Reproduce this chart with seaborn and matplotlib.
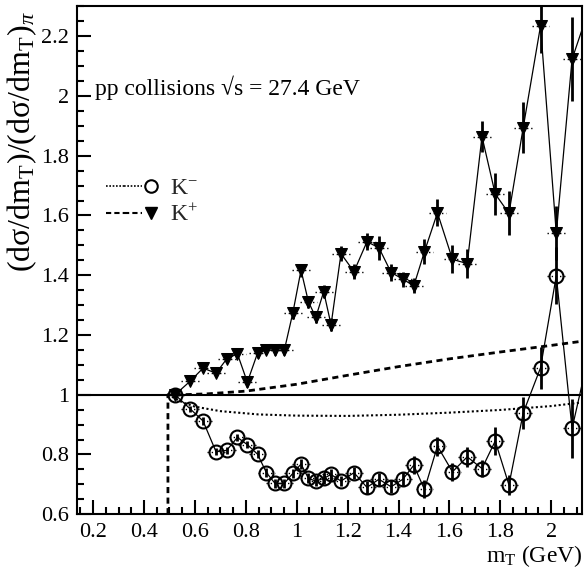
import numpy as np
import pandas as pd
import seaborn as sns
import matplotlib.pyplot as plt
from matplotlib.lines import Line2D
from matplotlib.legend_handler import HandlerTuple
from matplotlib.ticker import MultipleLocator, FormatStrFormatter

# m_T bin centres (GeV), shared by both kaon series
mt = [0.522, 0.581, 0.632, 0.683, 0.725, 0.767, 0.806, 0.846, 0.881, 0.915,
      0.951, 0.985, 1.017, 1.046, 1.075, 1.106, 1.135, 1.174, 1.225, 1.276,
      1.323, 1.371, 1.417, 1.460, 1.502, 1.553, 1.612, 1.670, 1.728, 1.780,
      1.834, 1.890, 1.958, 2.020, 2.082, 2.160]

# K+ / pi ratio and errors
ratio_kp = [1.0, 1.045, 1.089, 1.072, 1.12, 1.137, 1.042, 1.139, 1.15, 1.148,
            1.148, 1.275, 1.417, 1.311, 1.259, 1.345, 1.234, 1.472, 1.412, 1.512,
            1.492, 1.409, 1.387, 1.364, 1.479, 1.609, 1.453, 1.439, 1.864, 1.672,
            1.607, 1.894, 2.234, 1.54, 2.123, 2.32]
err_kp = [0.005, 0.012, 0.012, 0.012, 0.013, 0.014, 0.015, 0.015, 0.015, 0.015,
          0.015, 0.02, 0.022, 0.02, 0.02, 0.022, 0.022, 0.025, 0.025, 0.028,
          0.04, 0.03, 0.025, 0.025, 0.043, 0.045, 0.047, 0.05, 0.053, 0.07,
          0.074, 0.086, 0.09, 0.09, 0.14, 0.15]

# K- / pi ratio and errors
ratio_km = [1.0, 0.953, 0.912, 0.809, 0.814, 0.857, 0.833, 0.801, 0.739, 0.703,
            0.703, 0.737, 0.768, 0.72, 0.711, 0.72, 0.733, 0.711, 0.739, 0.69,
            0.717, 0.692, 0.717, 0.764, 0.683, 0.828, 0.742, 0.792, 0.753, 0.845,
            0.698, 0.939, 1.09, 1.398, 0.887, 1.18]
err_km = [0.005, 0.01, 0.012, 0.012, 0.012, 0.013, 0.013, 0.014, 0.015, 0.015,
          0.015, 0.016, 0.018, 0.017, 0.017, 0.018, 0.018, 0.018, 0.02, 0.022,
          0.022, 0.022, 0.024, 0.03, 0.03, 0.032, 0.03, 0.033, 0.03, 0.047,
          0.033, 0.053, 0.07, 0.095, 0.098, 0.11]

# model curves (dashed: K+, dotted: K-)
curve_kp_x = [0.494, 0.494, 0.55, 0.65, 0.8, 1.0, 1.2, 1.4, 1.6, 1.8, 2.0, 2.13]
curve_kp_y = [0.6, 1.0, 1.0, 1.003, 1.012, 1.035, 1.065, 1.094, 1.12, 1.143, 1.165, 1.18]
curve_km_x = [0.494, 0.55, 0.6, 0.7, 0.85, 1.0, 1.2, 1.4, 1.6, 1.8, 2.0, 2.13]
curve_km_y = [1.0, 0.975, 0.96, 0.945, 0.934, 0.930, 0.929, 0.933, 0.940, 0.949, 0.962, 0.975]

sns.set_theme(style='white')
plt.rcParams['font.family'] = ['Liberation Serif', 'DejaVu Serif']
plt.rcParams['mathtext.fontset'] = 'custom'
plt.rcParams['mathtext.rm'] = 'Liberation Serif'
plt.rcParams['mathtext.it'] = 'Liberation Serif:italic'

fig = plt.figure(figsize=(5.84, 5.72), dpi=100)
ax = fig.add_axes([0.132, 0.101, 0.865, 0.888])

ax.axhline(1.0, color='black', lw=1.5, zorder=2)

sns.lineplot(x=curve_kp_x, y=curve_kp_y, ax=ax, color='black', lw=2,
             linestyle=(0, (2.2, 1.6)), estimator=None, sort=False)
sns.lineplot(x=curve_km_x, y=curve_km_y, ax=ax, color='black', lw=1.5,
             linestyle=(0, (1, 1.2)), estimator=None, sort=False)

# horizontal bin marks (dotted) and vertical error bars
for y, e in [(ratio_kp, err_kp), (ratio_km, err_km)]:
    eb = ax.errorbar(mt, y, xerr=0.035, fmt='none', ecolor='black', elinewidth=1)
    eb.lines[2][0].set_linestyle((0, (1, 2)))
    ax.errorbar(mt, y, yerr=e, fmt='none', ecolor='black', elinewidth=2)

df_kp = pd.DataFrame({'mt': mt, 'ratio': ratio_kp})
df_km = pd.DataFrame({'mt': mt, 'ratio': ratio_km})
sns.lineplot(data=df_kp, x='mt', y='ratio', ax=ax, color='black', lw=0.9,
             marker='v', markersize=9, markerfacecolor='black',
             markeredgecolor='black', estimator=None, sort=False)
sns.lineplot(data=df_km, x='mt', y='ratio', ax=ax, color='black', lw=0.9,
             marker='o', markersize=10, markerfacecolor='none',
             markeredgecolor='black', markeredgewidth=1.5,
             estimator=None, sort=False)

ax.set_xlim(0.137, 2.122)
ax.set_ylim(0.6, 2.3)
ax.xaxis.set_major_locator(MultipleLocator(0.2))
ax.xaxis.set_minor_locator(MultipleLocator(0.05))
ax.yaxis.set_major_locator(MultipleLocator(0.2))
ax.yaxis.set_minor_locator(MultipleLocator(0.05))
ax.xaxis.set_major_formatter(FormatStrFormatter('%g'))
ax.yaxis.set_major_formatter(FormatStrFormatter('%g'))
ax.tick_params(which='both', direction='in', top=False, right=False,
               bottom=True, left=True, width=1.5, labelsize=16, pad=6,
               color='black', labelcolor='black')
ax.tick_params(which='major', length=10)
ax.tick_params(which='minor', length=5)
for s in ax.spines.values():
    s.set_linewidth(1.5)
    s.set_color('black')

ax.set_xlabel(r'm$_{\rm T}$ (GeV)', fontsize=17, loc='right', labelpad=1,
              color='black')
ax.set_ylabel(r'(dσ/dm$_{\rm T}$)/(dσ/dm$_{\rm T}$)$_{\pi}$', fontsize=23,
              loc='top', color='black')
ax.yaxis.set_label_coords(-0.076, 0.99)

ax.text(0.036, 0.825, 'pp collisions √s = 27.4 GeV', transform=ax.transAxes,
        fontsize=17, va='baseline', ha='left', color='black')

dot = Line2D([], [], color='black', lw=1.2, linestyle=(0, (1, 1)))
dash = Line2D([], [], color='black', lw=1.5, linestyle=(0, (2.5, 1.5)))
handles = [
    (dot, dot, Line2D([], [], marker='o', ls='none', mfc='none', mec='black',
                      mew=1.5, ms=9)),
    (dash, dash, Line2D([], [], marker='v', ls='none', mfc='black',
                        mec='black', ms=9)),
]
ax.legend(handles, ['K$^{-}$', 'K$^{+}$'],
          handler_map={tuple: HandlerTuple(ndivide=3, pad=0)},
          loc='center left', bbox_to_anchor=(0.057, 0.615), frameon=False,
          fontsize=17, handlelength=2.3, handletextpad=0.4, labelspacing=0.25,
          borderpad=0, borderaxespad=0)

fig.savefig('out.png', dpi=100)
